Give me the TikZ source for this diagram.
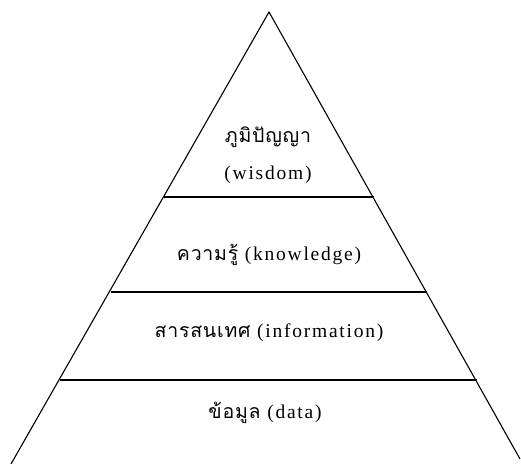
\documentclass[tikz,border=0pt]{standalone}
\usepackage{fontspec}
\setmainfont{Liberation Serif}[LetterSpace=9]
\newfontfamily\thaifont[Script=Thai,LetterSpace=4]{Loma}
\begin{document}
\begin{tikzpicture}[x=1pt,y=-1pt,
  edge/.style={draw=black,line width=1.1pt},
  band/.style={draw=black,line width=1.5pt},
  lbl/.style={inner sep=0pt,font=\fontsize{19.5}{22}\selectfont}]
\useasboundingbox (0,0) rectangle (521,463);
\coordinate (apex) at (269,12);
\coordinate (bl) at (11,464);
\coordinate (br) at (520,459);
\coordinate (w1) at (164,197);
\coordinate (w2) at (374,197);
\coordinate (k1) at (111,292);
\coordinate (k2) at (427,292);
\coordinate (i1) at (60,380);
\coordinate (i2) at (477,380);
\draw[edge] (bl) -- (apex) -- (br);
\draw[band,line width=2pt] (w1) -- (w2);
\draw[band] (k1) -- (k2);
\draw[band] (i1) -- (i2);
\node[lbl] (wth) at (268,137) {\thaifont ภูมิปัญญา};
\node[lbl] (wen) at (268,175) {(wisdom)};
\node[lbl] (kn) at (269,255) {{\thaifont ความรู้} (knowledge)};
\node[lbl] (inf) at (269,333) {{\thaifont สารสนเทศ} (information)};
\node[lbl] (da) at (265,413) {{\thaifont ข้อมูล} (data)};
\end{tikzpicture}
\end{document}
